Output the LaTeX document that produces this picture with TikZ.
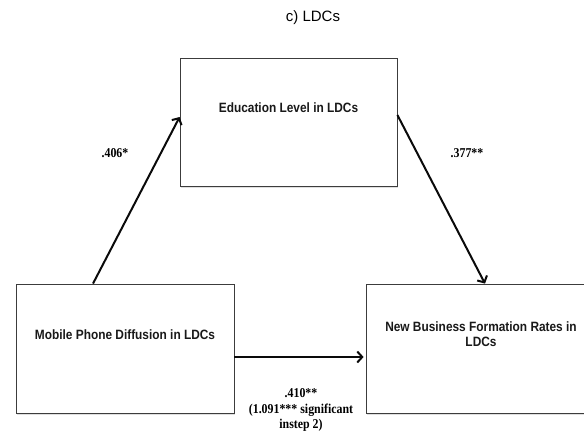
\documentclass[tikz,border=0pt]{standalone}
\usepackage{fontspec}
\setmainfont{Liberation Sans}
\newfontfamily\boxfont[FakeStretch=0.88]{Liberation Sans}
\newfontfamily\coeffont[FakeStretch=0.88]{Liberation Serif}
\usetikzlibrary{arrows.meta,shadows}

\begin{document}
\begin{tikzpicture}[
    x=1pt, y=-1pt,
    every node/.style={font=\boxfont\fontsize{13.5}{15}\selectfont\bfseries},
    box/.style={draw=boxline, line width=0.8pt, fill=white, inner sep=0pt,
        drop shadow={opacity=0.25, shadow xshift=1pt, shadow yshift=-1.5pt}},
    box text/.style={text=black!90, align=center},
    coef/.style={font=\coeffont\fontsize{13.5}{15.5}\selectfont\bfseries, align=center},
    link/.style={-{Straight Barb[length=5pt, width=11pt]}, line width=2pt, linkcolor}
]
\definecolor{boxline}{RGB}{60,60,60}     % Dark grey
\definecolor{linkcolor}{RGB}{10,10,10}   % Almost black

% Fix the canvas to the reference size
\useasboundingbox (0,0) rectangle (584,431);

% Title
\node[font=\fontsize{15}{17}\selectfont] (title) at (313,18) {c) LDCs};

% The three variables
\node[box, minimum width=217pt, minimum height=128pt] (edu) at (288.5,122) {};
\node[box text] (edutext) at ([yshift=14]edu.center) {Education Level in LDCs};

\node[box, minimum width=218pt, minimum height=129pt] (mob) at (125,348.5) {};
\node[box text] (mobtext) at ([yshift=14]mob.center) {Mobile Phone Diffusion in LDCs};

\node[box, minimum width=230pt, minimum height=129pt] (nbf) at (481,348.5) {};
\node[box text] (nbftext) at ([yshift=14.5]nbf.center) {New Business Formation Rates in\\LDCs};

% Paths
\draw[link] ([xshift=-32]mob.north) -- ([yshift=5]edu.west);
\draw[link] ([yshift=7]edu.east) -- ([xshift=4]nbf.north);
\draw[link, shorten >=2pt] ([yshift=-8.5]mob.east) -- ([yshift=-8.5]nbf.west);

% Coefficients
\node[coef] (c406) at (115,153) {.406*};
\node[coef] (c377) at (467,153) {.377**};
\node[coef] (c410) at (301,410) {.410**\\(1.091*** significant\\instep 2)};

\end{tikzpicture}
\end{document}
